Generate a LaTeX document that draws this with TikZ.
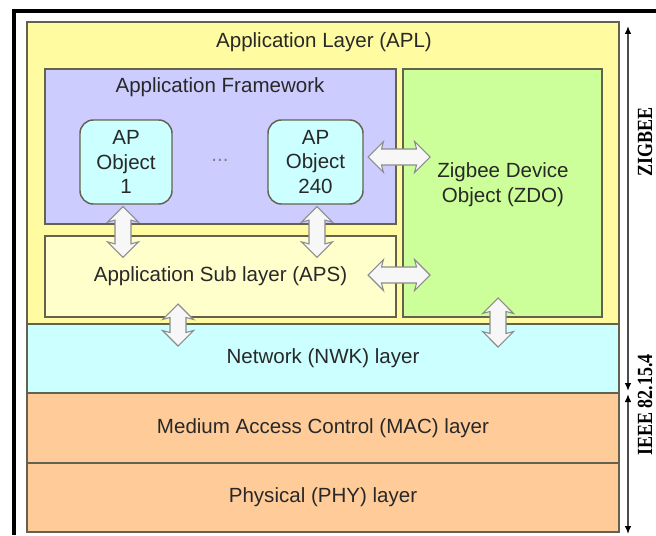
\documentclass[tikz,border=0pt]{standalone}
\usepackage{fontspec}
\setmainfont{Liberation Sans}
\newfontfamily\sidefont{Liberation Serif}
\usepackage{xcolor}
\usepackage{tikz}
\usetikzlibrary{shapes,arrows,arrows.meta,positioning,calc}
\definecolor{aplyellow}{RGB}{255,251,160}
\definecolor{afviolet}{RGB}{204,204,255}
\definecolor{apcyan}{RGB}{204,255,255}
\definecolor{apsyellow}{RGB}{255,255,204}
\definecolor{zdogreen}{RGB}{204,255,153}
\definecolor{nwkcyan}{RGB}{204,255,255}
\definecolor{macpeach}{RGB}{255,204,153}
\definecolor{boxline}{RGB}{100,98,78}
\definecolor{txtgray}{RGB}{40,40,40}
\tikzstyle{layer} = [rectangle, draw=boxline, line width=1.1pt, inner sep=0pt, text=txtgray, font=\fontsize{15.4}{18.5}\selectfont, align=center]
\tikzstyle{apobj} = [layer, rounded corners=10pt, fill=apcyan]
\tikzstyle{txt} = [inner sep=0pt, text=txtgray, font=\fontsize{15.4}{18.5}\selectfont, align=center]
\tikzstyle{blockarrow} = [double arrow, draw=gray!90, fill=gray!6, line width=0.8pt, inner sep=5.6pt, minimum width=0pt, double arrow head extend=5.6pt, double arrow head indent=1.5pt, double arrow tip angle=90]
\tikzstyle{span} = [{Latex[black,length=6pt,width=5pt]}-{Latex[black,length=6pt,width=5pt]}, draw=gray!60!black, line width=1.1pt]
\tikzstyle{side} = [inner sep=0pt, font=\sidefont\bfseries\fontsize{13.5}{16}\selectfont, rotate=90, yscale=1.2, transform shape]

\begin{document}
\begin{tikzpicture}[x=0.75pt, y=-0.75pt]
    \useasboundingbox (0,0) rectangle (656,535);
    \clip (0,0) rectangle (656,535);

    \draw[line width=3pt] (14,535) -- (14,11) -- (656,11);

    \node[layer, fill=aplyellow, minimum width=444pt, minimum height=226.5pt] (apl) at (323,173) {};
    \node[txt] (apltxt) at (324,42) {Application Layer (APL)};
    \node[layer, fill=nwkcyan, minimum width=444pt, minimum height=51.75pt] (nwk) at (323,358.5) {Network (NWK) layer};
    \node[layer, fill=macpeach, minimum width=444pt, minimum height=52.5pt] (mac) at (323,428) {Medium Access Control (MAC) layer};
    \node[layer, fill=macpeach, minimum width=444pt, minimum height=51.75pt] (phy) at (323,497.5) {Physical (PHY) layer};

    \node[layer, fill=afviolet, minimum width=263.25pt, minimum height=116.25pt] (af) at (220.5,146.5) {};
    \node[txt] (aftxt) at (220,87) {Application Framework};
    \node[layer, fill=apsyellow, minimum width=263.25pt, minimum height=60.75pt] (aps) at (220.5,276.5) {Application Sub layer (APS)};
    \node[layer, fill=zdogreen, minimum width=149.25pt, minimum height=186pt] (zdo) at (502.5,193) {};
    \node[txt] (zdotxt) at (503,185) {Zigbee Device\\Object (ZDO)};

    \node[apobj, minimum width=69pt, minimum height=63pt] (ap1) at (126,162) {AP\\Object\\1};
    \node[apobj, minimum width=71.25pt, minimum height=63pt] (ap240) at (315.5,162) {AP\\Object\\240};
    \node[txt, text=gray] (dots) at (220,160) {...};

    \node[blockarrow, rotate=90, minimum height=38pt] (ar1) at (123,232) {};
    \node[blockarrow, rotate=90, minimum height=38pt] (ar2) at (317,232) {};
    \node[blockarrow, minimum height=46.5pt] (ar3) at (399,157) {};
    \node[blockarrow, minimum height=46.5pt] (ar4) at (399,275) {};
    \node[blockarrow, rotate=90, minimum height=31.5pt] (ar5) at (178,325) {};
    \node[blockarrow, rotate=90, minimum height=36.75pt] (ar6) at (498,322.5) {};

    \coordinate (zigtop) at (628,26);
    \coordinate (zigbot) at (628,391);
    \coordinate (ieeetop) at (628,394);
    \coordinate (ieeebot) at (628,534);
    \draw[span] (zigtop) -- (zigbot);
    \draw[span] (ieeetop) -- (ieeebot);
    \node[side] (zigbee) at (645,142) {ZIGBEE};
    \node[side] (ieee) at (645,405) {IEEE 82.15.4};
\end{tikzpicture}
\end{document}
